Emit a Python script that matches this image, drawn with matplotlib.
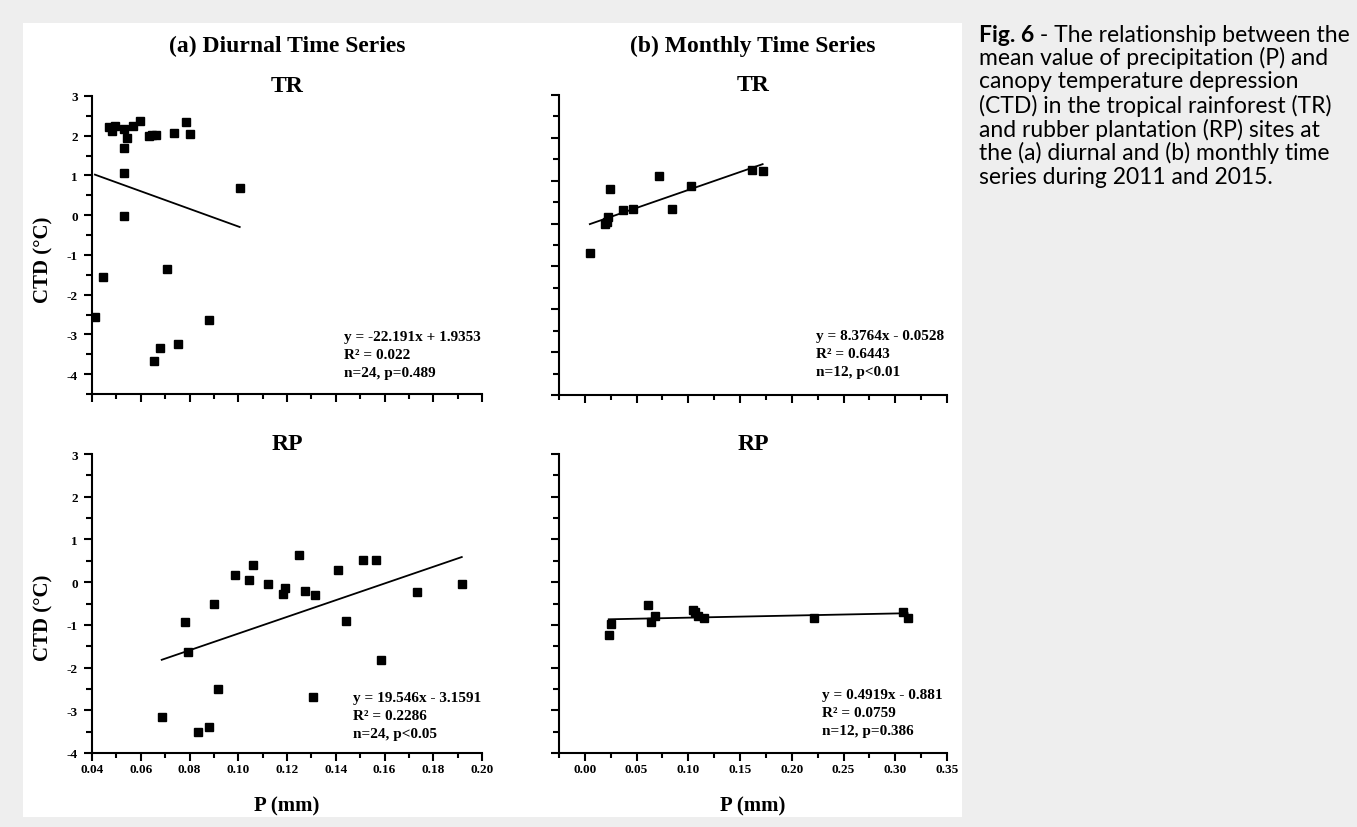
"""
CTD vs precipitation scatter panels (diurnal / monthly, TR / RP)
"""

import matplotlib
matplotlib.use("Agg")
import numpy as np
import matplotlib.pyplot as plt
from matplotlib.patches import Rectangle
from matplotlib.ticker import MultipleLocator, FormatStrFormatter

# --- data ---
# (a) diurnal, tropical rainforest
tr_day_p = [0.0412, 0.0444, 0.0468, 0.0483, 0.0494, 0.0530, 0.0533, 0.0531,
            0.0533, 0.0545, 0.0567, 0.0596, 0.0633, 0.0645, 0.0662, 0.0655,
            0.0677, 0.0707, 0.0738, 0.0752, 0.0786, 0.0803, 0.0882, 0.1006]
tr_day_ctd = [-2.55, -1.55, 2.21, 2.13, 2.25, 1.69, 2.16, 1.06,
              -0.03, 1.95, 2.24, 2.38, 2.00, 2.02, 2.01, -3.68,
              -3.35, -1.35, 2.08, -3.25, 2.35, 2.05, -2.63, 0.69]

# (a) diurnal, rubber plantation
rp_day_p = [0.0686, 0.0780, 0.0794, 0.0834, 0.0882, 0.0901, 0.0916, 0.0988,
            0.1043, 0.1059, 0.1121, 0.1183, 0.1193, 0.1251, 0.1274, 0.1308,
            0.1313, 0.1409, 0.1441, 0.1510, 0.1564, 0.1586, 0.1735, 0.1917]
rp_day_ctd = [-3.16, -0.93, -1.64, -3.51, -3.38, -0.51, -2.51, 0.17,
              0.05, 0.41, -0.05, -0.27, -0.14, 0.64, -0.20, -2.69,
              -0.30, 0.29, -0.92, 0.52, 0.52, -1.83, -0.24, -0.05]

# (b) monthly, tropical rainforest
tr_mon_p = [0.0048, 0.0192, 0.0212, 0.0224, 0.0244, 0.0372,
            0.0465, 0.0721, 0.0846, 0.1022, 0.1618, 0.1718]
tr_mon_ctd = [-0.69, 0.00, 0.03, 0.15, 0.80, 0.31,
              0.33, 1.12, 0.34, 0.87, 1.24, 1.23]

# (b) monthly, rubber plantation
rp_mon_p = [0.0231, 0.0253, 0.0606, 0.0635, 0.0679, 0.1045,
            0.1061, 0.1096, 0.1151, 0.2218, 0.3074, 0.3119]
rp_mon_ctd = [-1.24, -0.97, -0.54, -0.93, -0.79, -0.65,
              -0.70, -0.79, -0.85, -0.85, -0.71, -0.83]

# linear fits (slope, intercept) and stats as printed
fit_coef = {
    "tr_day": (-22.191, 1.9353),
    "rp_day": (19.546, -3.1591),
    "tr_mon": (8.3764, -0.0528),
    "rp_mon": (0.4919, -0.881),
}
fit_text = {
    "tr_day": "y = -22.191x + 1.9353\nR² = 0.022\nn=24, p=0.489",
    "rp_day": "y = 19.546x - 3.1591\nR² = 0.2286\nn=24, p<0.05",
    "tr_mon": "y = 8.3764x - 0.0528\nR² = 0.6443\nn=12, p<0.01",
    "rp_mon": "y = 0.4919x - 0.881\nR² = 0.0759\nn=12, p=0.386",
}

caption_lines = [
    "mean value of precipitation (P) and",
    "canopy temperature depression",
    "(CTD) in the tropical rainforest (TR)",
    "and rubber plantation (RP) sites at",
    "the (a) diurnal and (b) monthly time",
    "series during 2011 and 2015.",
]

W, H = 1357, 828
SERIF = "Liberation Serif"
plt.rcParams["axes.unicode_minus"] = False
plt.rcParams["font.family"] = SERIF


def box(x0, x1, y0, y1):
    """pixel box (top-left origin) -> figure fraction rect"""
    return [x0 / W, 1 - y1 / H, (x1 - x0) / W, (y1 - y0) / H]


fig = plt.figure(figsize=(W / 100, H / 100), dpi=100, facecolor="#eeeeee")
fig.add_artist(Rectangle((23 / W, 1 - 818 / H), (962 - 23) / W, (818 - 24) / H,
                         transform=fig.transFigure, facecolor="white",
                         edgecolor="none", zorder=0))

panels = [
    ("tr_day", tr_day_p, tr_day_ctd, box(92, 482, 97, 395), (0.04, 0.20), (-4.5, 3), "TR", (0.645, 0.131)),
    ("tr_mon", tr_mon_p, tr_mon_ctd, box(559, 947, 96, 396), (-0.025, 0.35), (-4, 3), "TR", (0.662, 0.137)),
    ("rp_day", rp_day_p, rp_day_ctd, box(92, 482, 455, 754), (0.04, 0.20), (-4, 3), "RP", (0.668, 0.127)),
    ("rp_mon", rp_mon_p, rp_mon_ctd, box(559, 947, 455, 754), (-0.025, 0.35), (-4, 3), "RP", (0.678, 0.134)),
]

for key, px, py, rect, xlim, ylim, name, txt_pos in panels:
    ax = fig.add_axes(rect)
    ax.set_facecolor("none")
    ax.plot(px, py, "s", color="black", markersize=5.3, zorder=3)

    a, b = fit_coef[key]
    xs = np.array([min(px), max(px)])
    ax.plot(xs, a * xs + b, color="black", linewidth=1.3, zorder=2)

    ax.set_xlim(*xlim)
    ax.set_ylim(*ylim)
    ax.spines["top"].set_visible(False)
    ax.spines["right"].set_visible(False)
    for s in ("left", "bottom"):
        ax.spines[s].set_linewidth(1.5)

    daily = key.endswith("day")
    ax.xaxis.set_major_locator(MultipleLocator(0.02 if daily else 0.05))
    ax.xaxis.set_minor_locator(MultipleLocator(0.01 if daily else 0.025))
    ax.xaxis.set_major_formatter(FormatStrFormatter("%.2f"))
    ax.yaxis.set_major_locator(MultipleLocator(1))
    ax.yaxis.set_minor_locator(MultipleLocator(0.5))
    ax.yaxis.set_major_formatter(FormatStrFormatter("%d"))

    ax.tick_params(which="major", direction="out", length=6, width=1.5)
    ax.tick_params(axis="x", which="minor", direction="out", length=3.5, width=1.5)
    ax.tick_params(axis="y", which="minor", direction="out", length=4.5, width=1.5)
    ax.tick_params(axis="x", which="major", pad=1, labelsize=9.5)
    ax.tick_params(axis="y", which="major", pad=4, labelsize=9.5)
    for lab in ax.get_xticklabels() + ax.get_yticklabels():
        lab.set_fontweight("bold")

    if name == "TR":
        ax.tick_params(axis="x", labelbottom=False)
    else:
        ax.set_xlabel("P (mm)", fontsize=15, fontweight="bold", labelpad=15)
    if daily:
        ax.set_ylabel("CTD (°C)", fontsize=15, fontweight="bold")
        ax.yaxis.set_label_coords(-0.10, 0.455)
    else:
        ax.tick_params(axis="y", labelleft=False)

    ax.set_title(name, fontsize=17, fontweight="bold", pad=0)
    ax.text(txt_pos[0], txt_pos[1], fit_text[key], transform=ax.transAxes,
            fontsize=11, fontweight="bold", va="center", ha="left",
            linespacing=1.5)

# column headers
fig.text((92 + 482) / 2 / W, 1 - 46 / H, "(a) Diurnal Time Series",
         fontsize=17, fontweight="bold", ha="center", va="center")
fig.text((559 + 947) / 2 / W, 1 - 46 / H, "(b) Monthly Time Series",
         fontsize=17, fontweight="bold", ha="center", va="center")

# caption on the right
cap_font = "Lato"
cap_size = 16.5
line_y = [35, 58, 82, 106, 130, 153, 177]
t_bold = fig.text(979 / W, 1 - line_y[0] / H, "Fig. 6", fontsize=cap_size,
                  fontweight="bold", family=cap_font, va="center", ha="left")
fig.canvas.draw()
bb = t_bold.get_window_extent(renderer=fig.canvas.get_renderer())
fig.text(bb.x1 / W, 1 - line_y[0] / H, " - The relationship between the",
         fontsize=cap_size, family=cap_font, va="center", ha="left")
for y, line in zip(line_y[1:], caption_lines):
    fig.text(979 / W, 1 - y / H, line, fontsize=cap_size, family=cap_font,
             va="center", ha="left")

plt.savefig("out.png", dpi=100, facecolor=fig.get_facecolor())
